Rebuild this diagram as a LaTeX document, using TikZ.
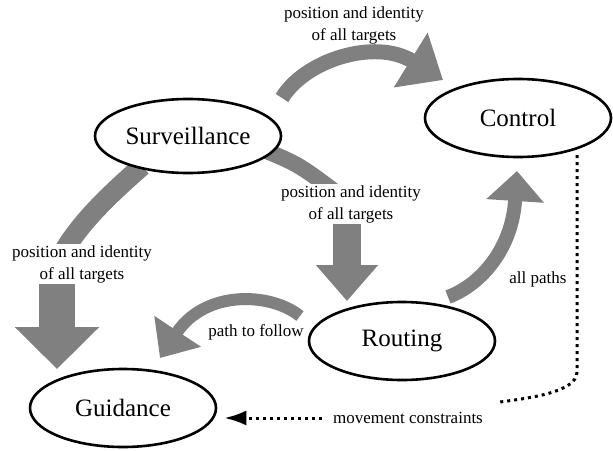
\documentclass[tikz,border=0pt]{standalone}
\usepackage{fontspec}
\setmainfont{Liberation Serif}
\usetikzlibrary{shapes.geometric,arrows.meta,calc}
\pgfdeclarelayer{background}
\pgfsetlayers{background,main}
\begin{document}
\begin{tikzpicture}[x=1pt,y=-1pt,
  state/.style={ellipse, draw, fill=white, line width=2.6pt, minimum width=186pt, minimum height=78pt, inner sep=0pt, font=\fontsize{25}{30}\selectfont},
  lab/.style={font=\fontsize{17}{22}\selectfont, align=center, inner sep=1pt},
  fat/.style={draw=black!50, line cap=butt},
  dots/.style={line width=3pt, dash pattern=on 3pt off 4pt}]
\useasboundingbox (0,0) rectangle (613,450);
% states
\node[state, minimum height=74pt] (surv) at (188,136) {Surveillance};
\node[state] (ctrl) at (518,118) {Control};
\node[state] (rout) at (402,341) {Routing};
\node[state] (guid) at (123,408) {Guidance};
% labels
\node[lab] (l1) at (354,25) {position and identity\\of all targets};
\node[lab, fill=white] (l2) at (351,204) {position and identity\\of all targets};
\node[lab, fill=white] (l3) at (82,264) {position and identity\\of all targets};
\node[lab] (l4) at (256,332) {path to follow};
\node[lab] (l5) at (538,279) {all paths};
\node[lab, fill=white] (mc) at (408,418) {movement constraints};
% free ends of the broad arrows
\coordinate (s1) at ($(surv.center)+(94,-38)$);
\coordinate (e1) at ($(ctrl.center)+(-75,-38)$);
\coordinate (s2) at ($(surv.center)+(76,14)$);
\coordinate (e2) at ($(rout.center)+(-55,-40)$);
\coordinate (s3) at ($(surv.center)+(-46,30)$);
\coordinate (e3) at ($(guid.center)+(-66,-39)$);
\coordinate (s4) at ($(rout.center)+(-102,-25)$);
\coordinate (e4) at ($(guid.center)+(37,-50)$);
\coordinate (s5) at ($(rout.center)+(46,-44)$);
\coordinate (e5) at ($(ctrl.center)+(-1,53)$);
\coordinate (d1) at ($(ctrl.center)+(59,37)$);
% broad shaded arrows
\begin{pgfonlayer}{background}
\draw[fat, line width=15pt, -{Triangle[width=62pt,length=38pt]}] (s1) .. controls (305,60) and (375,38) .. (e1);
\draw[fat, line width=16pt] (s2) .. controls (300,165) .. (l2.center);
\draw[fat, line width=28pt, -{Triangle[width=60pt,length=36pt]}] (l2.south -| e2) -- (e2);
\draw[fat, line width=20pt] (s3) .. controls (115,190) and (75,225) .. (l3.center -| e3);
\draw[fat, line width=36pt, -{Triangle[width=82pt,length=42pt]}] (l3.south -| e3) -- (e3);
\draw[fat, line width=12pt, -{Triangle[width=54pt,length=32pt]}] (s4) .. controls (270,292) and (205,290) .. (e4);
\draw[fat, line width=14pt, -{Triangle[width=56pt,length=30pt]}] (s5) .. controls (480,285) and (512,250) .. (e5);
\end{pgfonlayer}
% dotted constraint line
\draw[dots] (d1) -- (577,372) .. controls (577,392) and (530,398) .. (500,402);
\draw[dots, -{Latex[length=22pt,width=15pt]}, shorten <=10pt, shorten >=7pt] (mc.west) -- (mc.west -| guid.east);
\end{tikzpicture}
\end{document}
